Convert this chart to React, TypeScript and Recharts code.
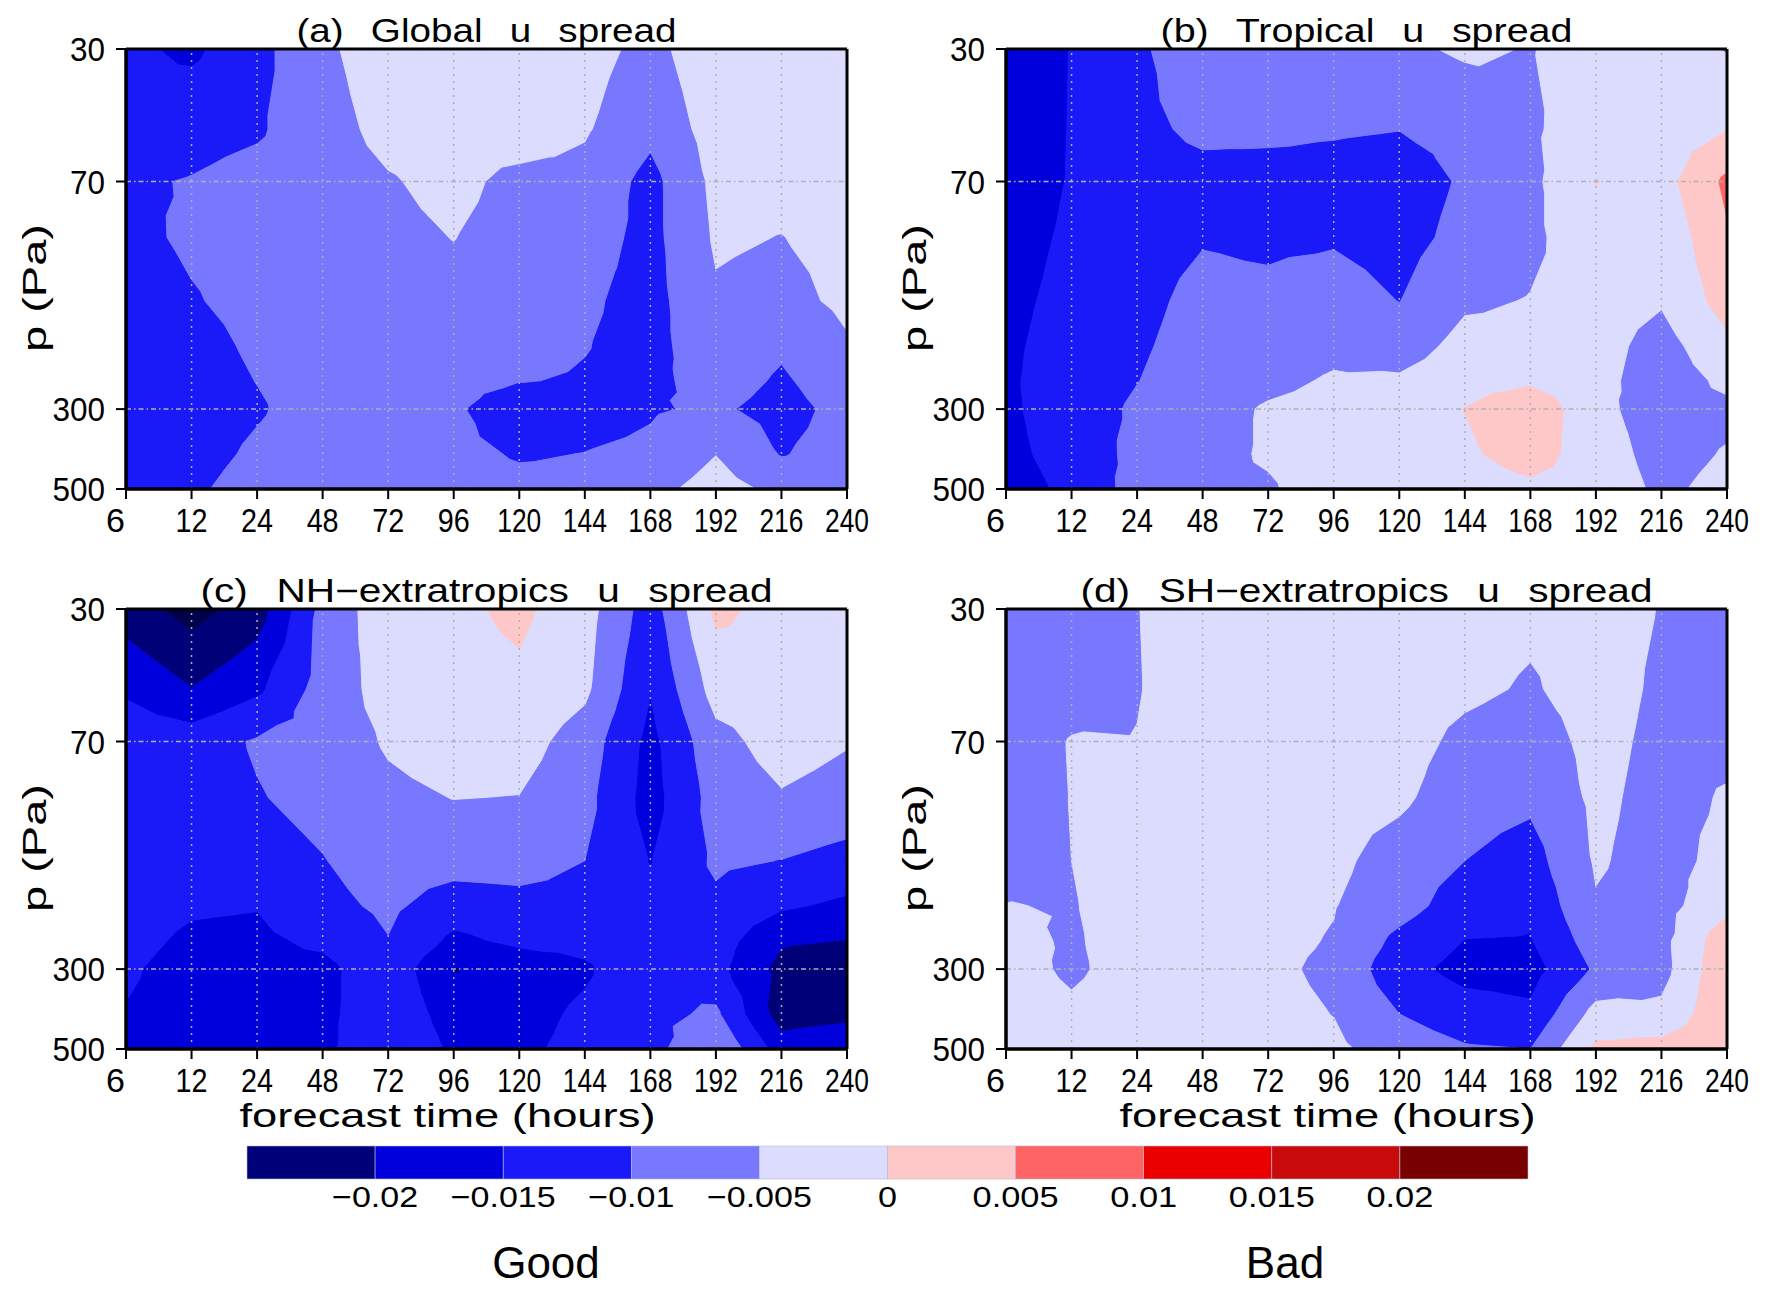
import React from 'react'
import { ScatterChart, Scatter, XAxis, YAxis, ReferenceLine } from 'recharts'

// forecast times (categorical, equally spaced) and pressure levels (log axis)
const hours = ['6', '12', '24', '48', '72', '96', '120', '144', '168', '192', '216', '240']
const pressureLevels = [30, 50, 70, 100, 150, 200, 250, 300, 400, 500]
const labelledLevels = [30, 70, 300, 500]

const contourLevels = [-0.025, -0.02, -0.015, -0.01, -0.005, 0, 0.005, 0.01, 0.015, 0.02]
const shadeColors = ['#00004b', '#000078', '#0000dc', '#1a1af8', '#7878ff', '#dcdcff', '#ffc8c8', '#ff6464', '#eb0000', '#c80a0a', '#780000']

// rows = pressure levels (30 -> 500), columns = forecast hours
const globalU = [
  [-0.0140, -0.0160, -0.0115, -0.0060, -0.0022, -0.0020, -0.0015, -0.0030, -0.0066, -0.0015, -0.0015, -0.0015],
  [-0.0125, -0.0115, -0.0106, -0.0070, -0.0035, -0.0028, -0.0021, -0.0045, -0.0088, -0.0028, -0.0025, -0.0020],
  [-0.0105, -0.0098, -0.0085, -0.0075, -0.0054, -0.0036, -0.0065, -0.0065, -0.0115, -0.0038, -0.0035, -0.0025],
  [-0.0110, -0.0094, -0.0085, -0.0078, -0.0062, -0.0049, -0.0070, -0.0078, -0.0115, -0.0044, -0.0051, -0.0035],
  [-0.0120, -0.0103, -0.0088, -0.0080, -0.0070, -0.0065, -0.0075, -0.0092, -0.0118, -0.0056, -0.0065, -0.0040],
  [-0.0125, -0.0115, -0.0093, -0.0080, -0.0075, -0.0075, -0.0085, -0.0098, -0.0118, -0.0065, -0.0092, -0.0055],
  [-0.0125, -0.0120, -0.0099, -0.0080, -0.0078, -0.0082, -0.0098, -0.0104, -0.0115, -0.0075, -0.0107, -0.0070],
  [-0.0125, -0.0125, -0.0105, -0.0078, -0.0078, -0.0092, -0.0135, -0.0120, -0.0105, -0.0092, -0.0118, -0.0084],
  [-0.0125, -0.0118, -0.0092, -0.0075, -0.0075, -0.0085, -0.0105, -0.0099, -0.0090, -0.0051, -0.0103, -0.0080],
  [-0.0125, -0.0108, -0.0080, -0.0072, -0.0072, -0.0078, -0.0085, -0.0085, -0.0065, -0.0030, -0.0063, -0.0075],
]

const tropicalU = [
  [-0.0190, -0.0148, -0.0108, -0.0070, -0.0075, -0.0075, -0.0060, -0.0043, -0.0052, -0.0030, -0.0030, -0.0052],
  [-0.0190, -0.0147, -0.0112, -0.0090, -0.0090, -0.0095, -0.0099, -0.0085, -0.0058, -0.0020, -0.0028, -0.0001],
  [-0.0185, -0.0146, -0.0122, -0.0115, -0.0118, -0.0118, -0.0125, -0.0094, -0.0062, 0.0001, -0.0020, 0.0060],
  [-0.0175, -0.0140, -0.0118, -0.0103, -0.0108, -0.0105, -0.0118, -0.0085, -0.0062, -0.0015, -0.0038, 0.0044],
  [-0.0165, -0.0133, -0.0112, -0.0088, -0.0090, -0.0079, -0.0101, -0.0058, -0.0048, -0.0025, -0.0045, 0.0020],
  [-0.0160, -0.0127, -0.0106, -0.0083, -0.0075, -0.0062, -0.0075, -0.0034, -0.0035, -0.0030, -0.0070, -0.0011],
  [-0.0158, -0.0123, -0.0101, -0.0078, -0.0062, -0.0045, -0.0043, -0.0020, -0.0010, -0.0035, -0.0075, -0.0040],
  [-0.0160, -0.0121, -0.0094, -0.0070, -0.0045, -0.0035, -0.0030, 0.0001, 0.0040, -0.0040, -0.0068, -0.0060],
  [-0.0165, -0.0128, -0.0088, -0.0065, -0.0045, -0.0030, -0.0025, -0.0010, 0.0025, -0.0030, -0.0065, -0.0047],
  [-0.0175, -0.0138, -0.0082, -0.0060, -0.0055, -0.0026, -0.0025, -0.0030, -0.0013, -0.0025, -0.0058, -0.0038],
]

const nhU = [
  [-0.0225, -0.0270, -0.0225, -0.0085, -0.0020, -0.0010, 0.0010, -0.0030, -0.0125, 0.0010, -0.0015, -0.0010],
  [-0.0157, -0.0199, -0.0160, -0.0080, -0.0030, -0.0020, -0.0010, -0.0040, -0.0148, -0.0030, -0.0020, -0.0025],
  [-0.0122, -0.0124, -0.0095, -0.0078, -0.0045, -0.0030, -0.0030, -0.0073, -0.0165, -0.0066, -0.0030, -0.0047],
  [-0.0125, -0.0125, -0.0103, -0.0085, -0.0060, -0.0049, -0.0051, -0.0085, -0.0170, -0.0080, -0.0054, -0.0068],
  [-0.0128, -0.0135, -0.0120, -0.0102, -0.0075, -0.0080, -0.0080, -0.0100, -0.0152, -0.0092, -0.0101, -0.0117],
  [-0.0132, -0.0145, -0.0148, -0.0115, -0.0090, -0.0125, -0.0116, -0.0118, -0.0135, -0.0110, -0.0143, -0.0160],
  [-0.0138, -0.0157, -0.0160, -0.0140, -0.0102, -0.0161, -0.0140, -0.0135, -0.0120, -0.0125, -0.0195, -0.0201],
  [-0.0145, -0.0165, -0.0165, -0.0165, -0.0115, -0.0203, -0.0180, -0.0158, -0.0105, -0.0135, -0.0215, -0.0230],
  [-0.0152, -0.0165, -0.0160, -0.0165, -0.0110, -0.0175, -0.0170, -0.0140, -0.0115, -0.0091, -0.0225, -0.0215],
  [-0.0155, -0.0160, -0.0155, -0.0165, -0.0099, -0.0160, -0.0160, -0.0135, -0.0118, -0.0050, -0.0175, -0.0155],
]

const shU = [
  [-0.0075, -0.0065, -0.0051, -0.0030, -0.0025, -0.0025, -0.0020, -0.0030, -0.0040, -0.0030, -0.0052, -0.0070],
  [-0.0075, -0.0065, -0.0052, -0.0028, -0.0025, -0.0025, -0.0025, -0.0040, -0.0055, -0.0030, -0.0058, -0.0068],
  [-0.0072, -0.0048, -0.0049, -0.0028, -0.0028, -0.0028, -0.0030, -0.0062, -0.0075, -0.0035, -0.0062, -0.0062],
  [-0.0070, -0.0049, -0.0040, -0.0030, -0.0030, -0.0030, -0.0040, -0.0080, -0.0090, -0.0040, -0.0065, -0.0046],
  [-0.0068, -0.0050, -0.0035, -0.0030, -0.0032, -0.0038, -0.0073, -0.0100, -0.0120, -0.0045, -0.0068, -0.0035],
  [-0.0049, -0.0052, -0.0035, -0.0032, -0.0035, -0.0048, -0.0080, -0.0125, -0.0140, -0.0054, -0.0068, -0.0015],
  [-0.0040, -0.0054, -0.0035, -0.0033, -0.0038, -0.0053, -0.0113, -0.0151, -0.0153, -0.0075, -0.0065, 0.0032],
  [-0.0035, -0.0056, -0.0035, -0.0035, -0.0040, -0.0060, -0.0133, -0.0167, -0.0170, -0.0093, -0.0068, 0.0040],
  [-0.0030, -0.0043, -0.0030, -0.0032, -0.0035, -0.0051, -0.0100, -0.0127, -0.0140, -0.0033, -0.0038, 0.0040],
  [-0.0030, -0.0040, -0.0030, -0.0030, -0.0030, -0.0040, -0.0073, -0.0095, -0.0100, 0.0010, 0.0019, 0.0040],
]

const PLOT_W = 721
const PLOT_H = 440
const FONT = '"Liberation Sans", Arial, sans-serif'

const panels = [
  { title: '(a) Global u spread', grid: globalU, left: 126, top: 49, titleW: 380, bottomRow: false },
  { title: '(b) Tropical u spread', grid: tropicalU, left: 1006, top: 49, titleW: 412, bottomRow: false },
  { title: '(c) NH\u2212extratropics u spread', grid: nhU, left: 126, top: 609, titleW: 572, bottomRow: true },
  { title: '(d) SH\u2212extratropics u spread', grid: shU, left: 1006, top: 609, titleW: 572, bottomRow: true },
]

type Node = { x: number; l: number; v: number }

function bandOf(v: number) {
  let k = 0
  while (k < contourLevels.length && v >= contourLevels[k]) k++
  return k
}

// keep the part of a polygon above (or below) a threshold, linear in value
function clipAt(poly: Node[], t: number, above: boolean): Node[] {
  const out: Node[] = []
  for (let k = 0; k < poly.length; k++) {
    const a = poly[k]
    const b = poly[(k + 1) % poly.length]
    const ina = above ? a.v >= t : a.v < t
    const inb = above ? b.v >= t : b.v < t
    if (ina) out.push(a)
    if (ina !== inb) {
      const f = (t - a.v) / (b.v - a.v)
      out.push({ x: a.x + f * (b.x - a.x), l: a.l + f * (b.l - a.l), v: t })
    }
  }
  return out
}

function shadeBands(grid: number[][]) {
  const bands = shadeColors.map(() => ({ pts: [] as { x: number; y: number }[], counts: [] as number[] }))
  const logs = pressureLevels.map((p) => Math.log10(p))
  const add = (k: number, poly: Node[]) => {
    bands[k].counts.push(poly.length)
    poly.forEach((n) => bands[k].pts.push({ x: n.x, y: Math.pow(10, n.l) }))
  }
  for (let j = 0; j < pressureLevels.length - 1; j++) {
    for (let i = 0; i < hours.length - 1; i++) {
      const a = { x: i, l: logs[j], v: grid[j][i] }
      const b = { x: i + 1, l: logs[j], v: grid[j][i + 1] }
      const c = { x: i + 1, l: logs[j + 1], v: grid[j + 1][i + 1] }
      const d = { x: i, l: logs[j + 1], v: grid[j + 1][i] }
      const ks = [a, b, c, d].map((n) => bandOf(n.v))
      if (ks.every((k) => k === ks[0])) {
        add(ks[0], [a, b, c, d])
        continue
      }
      const m = { x: i + 0.5, l: (logs[j] + logs[j + 1]) / 2, v: (a.v + b.v + c.v + d.v) / 4 }
      for (const tri of [[a, b, m], [b, c, m], [c, d, m], [d, a, m]]) {
        for (let k = 0; k < shadeColors.length; k++) {
          let poly: Node[] = tri
          if (k > 0) poly = clipAt(poly, contourLevels[k - 1], true)
          if (poly.length && k < contourLevels.length) poly = clipAt(poly, contourLevels[k], false)
          if (poly.length >= 3) add(k, poly)
        }
      }
    }
  }
  return bands
}

// draws all polygons of one band from the pixel points handed over by Scatter
function BandPath(props: any) {
  const { points, counts, color } = props
  if (!points || !points.length) return null
  let d = ''
  let k = 0
  counts.forEach((n: number) => {
    for (let m = 0; m < n; m++) {
      const p = points[k + m]
      d += (m === 0 ? 'M' : 'L') + Number(p.x).toFixed(1) + ' ' + Number(p.y).toFixed(1)
    }
    d += 'Z'
    k += n
  })
  return <path d={d} fill={color} stroke={color} strokeWidth={1} strokeLinejoin="round" />
}

const noDot = () => <g />

function HourTick(props: any) {
  const { x, y, payload } = props
  const label = hours[payload.value]
  const first = payload.value === 0
  const w = label.length === 3 ? 44 : label.length === 2 ? 32 : undefined
  return (
    <text x={first ? x - 1 : x} y={y + 31} textAnchor={first ? 'end' : 'middle'} fontSize={34} fill="#000"
      textLength={w} lengthAdjust="spacingAndGlyphs">
      {label}
    </text>
  )
}

function LevelTick(props: any) {
  const { x, y, payload } = props
  const s = String(payload.value)
  return (
    <text x={x - 9} y={y + 12} textAnchor="end" fontSize={34} fill="#000" textLength={s.length * 17.5} lengthAdjust="spacingAndGlyphs">
      {s}
    </text>
  )
}

const M_TOP = 30
const M_RIGHT = 40
const chartBox = (left: number, top: number) => ({
  position: 'absolute' as const, left: left - 100, top: top - M_TOP,
})
const CW = PLOT_W + 100 + M_RIGHT
const CH = PLOT_H + M_TOP + 60
const margin = { top: M_TOP, right: M_RIGHT, left: 0, bottom: 0 }
const tickIdx = hours.map((_, i) => i)

function Panel({ grid, left, top }: { grid: number[][]; left: number; top: number }) {
  const bands = shadeBands(grid)
  return (
    <>
      <div style={chartBox(left, top)}>
        <ScatterChart width={CW} height={CH} margin={margin}>
          <XAxis type="number" dataKey="x" domain={[0, 11]} ticks={tickIdx} height={60} tick={false} tickLine={false} axisLine={false} allowDataOverflow />
          <YAxis type="number" dataKey="y" scale="log" domain={[30, 500]} ticks={labelledLevels} reversed width={100} tick={false} tickLine={false} axisLine={false} allowDataOverflow />
          {bands.map((b, k) =>
            b.pts.length ? (
              <Scatter key={k} data={b.pts} line={<BandPath counts={b.counts} color={shadeColors[k]} />} lineType="joint"
                shape={noDot} isAnimationActive={false} legendType="none" />
            ) : null
          )}
        </ScatterChart>
      </div>
      <div style={chartBox(left, top)}>
        <ScatterChart width={CW} height={CH} margin={margin}>
          <XAxis type="number" dataKey="x" domain={[0, 11]} ticks={tickIdx} interval={0} height={60} tick={<HourTick />}
            tickSize={10} tickMargin={2} tickLine={{ stroke: '#000', strokeWidth: 2 }} axisLine={{ stroke: '#000', strokeWidth: 3 }} allowDataOverflow />
          <YAxis type="number" dataKey="y" scale="log" domain={[30, 500]} ticks={labelledLevels} interval={0} reversed width={100}
            tick={<LevelTick />} tickSize={10} tickMargin={2} tickLine={{ stroke: '#000', strokeWidth: 2 }} axisLine={{ stroke: '#000', strokeWidth: 3 }} allowDataOverflow />
          {tickIdx.slice(1, -1).map((i) => (
            <ReferenceLine key={'v' + i} x={i} stroke="#b0b0b0" strokeWidth={1.5} strokeDasharray="2 5" />
          ))}
          <ReferenceLine y={70} stroke="#b0b0b0" strokeWidth={1.5} strokeDasharray="5 3 1.5 3" />
          <ReferenceLine y={300} stroke="#b0b0b0" strokeWidth={1.5} strokeDasharray="5 3 1.5 3" />
          <ReferenceLine x={0} stroke="#000" strokeWidth={3} />
          <ReferenceLine x={11} stroke="#000" strokeWidth={3} />
          <ReferenceLine y={30} stroke="#000" strokeWidth={3} />
          <ReferenceLine y={500} stroke="#000" strokeWidth={3} />
          <Scatter data={[{ x: 0, y: 30 }, { x: 11, y: 500 }]} shape={noDot} isAnimationActive={false} legendType="none" />
        </ScatterChart>
      </div>
    </>
  )
}

const BAR_X = 247
const BAR_W = 1281
const BAR_Y = 1146
const BAR_H = 33

export default function App() {
  const cells = shadeColors.slice(1)
  const cellW = BAR_W / cells.length
  const barLabels = contourLevels.slice(1)
  const fmt = (v: number) => (v === 0 ? '0' : (v < 0 ? '\u2212' : '') + String(Math.abs(v)))
  return (
    <div style={{ position: 'absolute', left: 0, top: 0, width: 1779, height: 1290, background: '#fff', fontFamily: FONT, overflow: 'hidden' }}>
      {panels.map((p) => (
        <Panel key={p.title} grid={p.grid} left={p.left} top={p.top} />
      ))}
      <svg width={1779} height={1290} style={{ position: 'absolute', left: 0, top: 0, pointerEvents: 'none' }}>
        {panels.map((p) => (
          <g key={p.title}>
            <text x={p.left + PLOT_W / 2} y={p.top - 7} textAnchor="middle" fontSize={33} textLength={p.titleW} lengthAdjust="spacingAndGlyphs"
              style={{ wordSpacing: 14 }}>
              {p.title}
            </text>
            <text transform={`translate(${p.left - 92},${p.top + PLOT_H / 2 + 19}) rotate(-90)`} textAnchor="middle" dominantBaseline="central"
              fontSize={34} textLength={128} lengthAdjust="spacingAndGlyphs">
              p (Pa)
            </text>
            {p.bottomRow ? (
              <text x={p.left + PLOT_W / 2 - 39} y={p.top + PLOT_H + 78} textAnchor="middle" fontSize={34} textLength={416} lengthAdjust="spacingAndGlyphs">
                forecast time (hours)
              </text>
            ) : null}
          </g>
        ))}
        {cells.map((c, k) => (
          <rect key={c} x={BAR_X + k * cellW} y={BAR_Y} width={cellW} height={BAR_H} fill={c} stroke="#b8b8d8" strokeWidth={0.6} />
        ))}
        {barLabels.map((v, k) => {
          const s = fmt(v)
          const dots = s.split('.').length - 1
          const w = (s.length - dots) * 19 + dots * 10
          return (
            <text key={k} x={BAR_X + (k + 1) * cellW} y={BAR_Y + BAR_H + 28} textAnchor="middle" fontSize={29}
              textLength={w} lengthAdjust="spacingAndGlyphs">
              {s}
            </text>
          )
        })}
        <text x={546} y={1278} textAnchor="middle" fontSize={44}>Good</text>
        <text x={1285} y={1278} textAnchor="middle" fontSize={44}>Bad</text>
      </svg>
    </div>
  )
}
